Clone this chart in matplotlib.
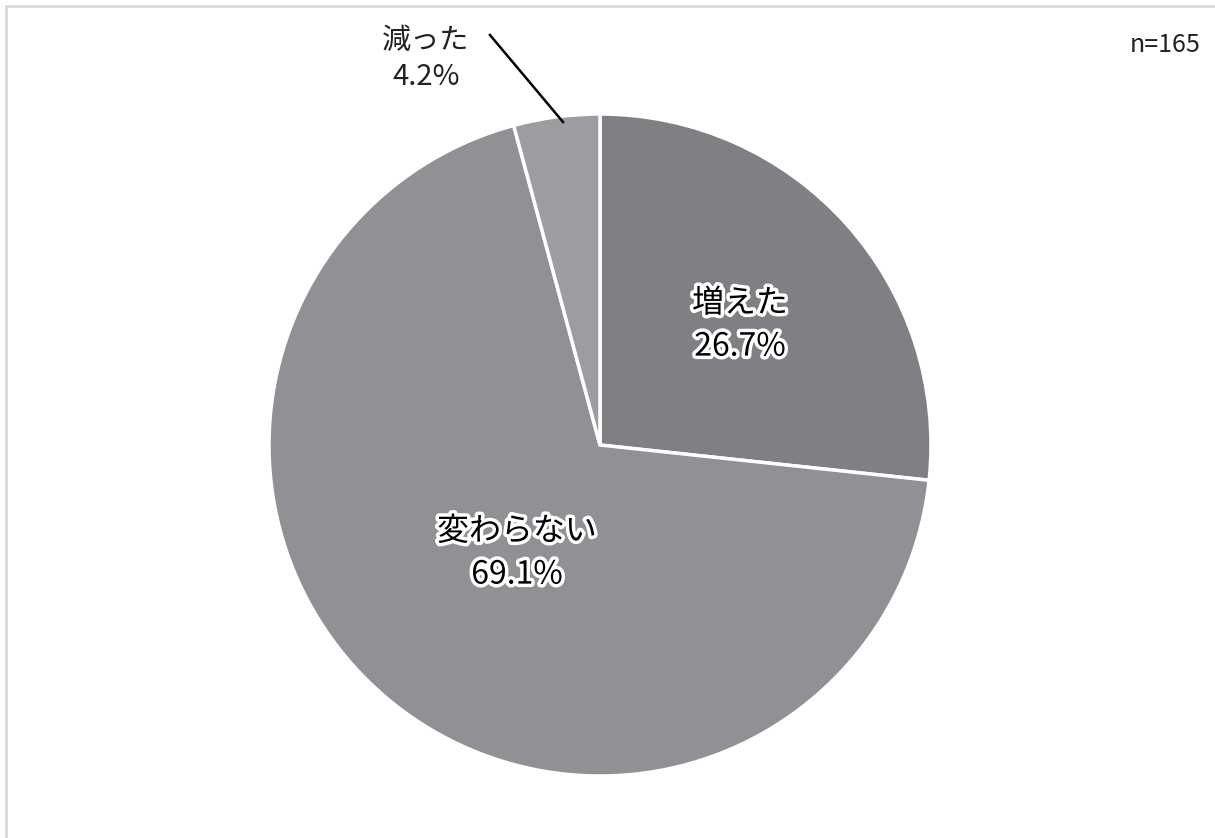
import matplotlib
matplotlib.use("Agg")
import matplotlib.pyplot as plt
import matplotlib.patheffects as pe

plt.rcParams['font.family'] = ['Noto Sans CJK JP', 'DejaVu Sans']

categories = ["増えた", "変わらない", "減った"]
values = [26.7, 69.1, 4.2]
colors = ["#7f8084", "#909195", "#9c9da0"]
n_label = "n=165"

W, H = 1215, 838
fig = plt.figure(figsize=(W / 100, H / 100), dpi=100)
fig.patch.set_facecolor("white")

# frame lines (left and top)
fig.add_artist(plt.Line2D([6 / W, 6 / W], [0, 1 - 6 / H], color="#d9d9d9", lw=2, transform=fig.transFigure))
fig.add_artist(plt.Line2D([6 / W, 1], [1 - 6 / H, 1 - 6 / H], color="#d9d9d9", lw=2, transform=fig.transFigure))

cx, cy, r = 600, 445, 331
ax = fig.add_axes([(cx - r) / W, (H - cy - r) / H, 2 * r / W, 2 * r / H])
wedges, _ = ax.pie(values, colors=colors, startangle=90, counterclock=False,
                   radius=1.0, wedgeprops=dict(edgecolor="white", linewidth=2.5))
ax.set_xlim(-1, 1)
ax.set_ylim(-1, 1)
ax.set_aspect("equal")
ax.axis("off")

outline = [pe.withStroke(linewidth=5, foreground="white")]

def px(x, y):
    return (x - cx) / r, (cy - y) / r

# inside labels
ax.text(*px(740, 325), f"{categories[0]}\n{values[0]:.1f}%", ha="center", va="center",
        fontsize=23, color="black", linespacing=1.45, path_effects=outline)
ax.text(*px(517, 553), f"{categories[1]}\n{values[1]:.1f}%", ha="center", va="center",
        fontsize=23, color="black", linespacing=1.45, path_effects=outline)

# outside label with leader line
ax.plot(*zip(px(563, 122), px(490, 35)), color="black", lw=1.8, clip_on=False)
ax.text(*px(426, 59), f"{categories[2]}\n{values[2]:.1f}%", ha="center", va="center",
        fontsize=21, color="#222222", linespacing=1.3, clip_on=False)

fig.text(1201 / W, 1 - 45 / H, n_label, ha="right", va="center", fontsize=18, color="#222222")

fig.savefig("out.png", dpi=100, facecolor="white")
